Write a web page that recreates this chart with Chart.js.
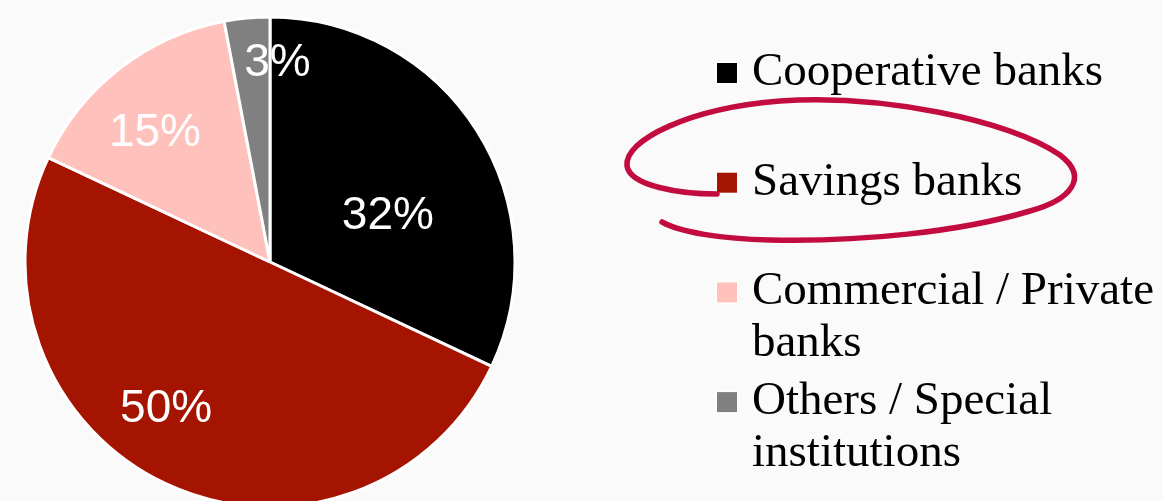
<!DOCTYPE html>
<html>
<head>
<meta charset="utf-8">
<script src="https://cdn.jsdelivr.net/npm/chart.js@4.4.1/dist/chart.umd.min.js"></script>
<style>
  html, body { margin: 0; padding: 0; background: #fafafa; }
  #wrap { width: 1163px; height: 501px; position: relative; overflow: hidden; }
</style>
</head>
<body>
<div id="wrap"><canvas id="pie" width="1163" height="501"></canvas></div>
<script>
// Market share by banking group (%)
const categories = [
  ['Cooperative banks'],
  ['Savings banks'],
  ['Commercial / Private', 'banks'],
  ['Others / Special', 'institutions']
];
const shares = [32, 50, 15, 3];
const sliceColors = ['#000000', '#a51400', '#ffc1bc', '#808080'];

// Where each percentage sits: fraction of the radius and a small angular nudge (degrees)
const labelPlacement = [
  { r: 0.522, nudge: 9.6 },
  { r: 0.723, nudge: 10.7 },
  { r: 0.716, nudge: -3.2 },
  { r: 0.827, nudge: 7.5 }
];

const sliceLabels = {
  id: 'sliceLabels',
  afterDatasetsDraw(chart) {
    const ctx = chart.ctx;
    const meta = chart.getDatasetMeta(0);
    const size = 46;
    ctx.save();
    ctx.font = size + 'px "Liberation Sans", Arial, sans-serif';
    ctx.fillStyle = '#ffffff';
    ctx.textAlign = 'center';
    ctx.textBaseline = 'alphabetic';
    meta.data.forEach((arc, i) => {
      const p = arc.getProps(['x', 'y', 'startAngle', 'endAngle', 'outerRadius'], true);
      const place = labelPlacement[i];
      const mid = (p.startAngle + p.endAngle) / 2 + place.nudge * Math.PI / 180;
      const dist = p.outerRadius * place.r;
      const cx = p.x + Math.cos(mid) * dist;
      const cy = p.y + Math.sin(mid) * dist;
      ctx.fillText(shares[i] + '%', cx, cy + size * 0.358);
    });
    ctx.restore();
  }
};

const sideLegend = {
  id: 'sideLegend',
  afterDraw(chart) {
    const ctx = chart.ctx;
    const labels = chart.data.labels;
    const colors = chart.data.datasets[0].backgroundColor;
    const x0 = 717, box = 20, textX = 752;
    const firstBaseline = 85, itemStep = 109.7, lineStep = 52;
    ctx.save();
    ctx.font = '47px "Liberation Serif", "Times New Roman", serif';
    ctx.textAlign = 'left';
    ctx.textBaseline = 'alphabetic';
    labels.forEach((lines, i) => {
      const base = firstBaseline + i * itemStep;
      const top = base - 22;
      ctx.fillStyle = '#ffffff';
      ctx.fillRect(x0 - 1.5, top - 1.5, box + 3, box + 3);
      ctx.fillStyle = colors[i];
      ctx.fillRect(x0, top, box, box);
      ctx.fillStyle = '#000000';
      lines.forEach((line, j) => ctx.fillText(line, textX, base + j * lineStep));
    });

    // hand-drawn ring around the savings banks entry
    ctx.strokeStyle = '#c20c3f';
    ctx.lineWidth = 5.5;
    ctx.lineCap = 'round';
    ctx.lineJoin = 'round';
    ctx.beginPath();
    ctx.moveTo(717, 194);
    ctx.bezierCurveTo(680, 194, 630, 186, 627, 166);
    ctx.bezierCurveTo(624, 140, 690, 108, 780, 101);
    ctx.bezierCurveTo(880, 94, 1010, 120, 1060, 155);
    ctx.bezierCurveTo(1090, 178, 1070, 200, 1030, 211);
    ctx.bezierCurveTo(960, 232, 860, 242, 770, 240);
    ctx.bezierCurveTo(720, 239, 680, 232, 662, 222);
    ctx.stroke();
    ctx.restore();
  }
};

new Chart(document.getElementById('pie'), {
  type: 'pie',
  data: {
    labels: categories,
    datasets: [{
      data: shares,
      backgroundColor: sliceColors,
      borderColor: '#ffffff',
      borderWidth: 3,
      radius: 245,
      hoverOffset: 0
    }]
  },
  options: {
    responsive: false,
    animation: false,
    layout: { padding: { left: 0, right: 623, top: 23, bottom: 0 } },
    plugins: {
      legend: { display: false },
      tooltip: { enabled: false }
    }
  },
  plugins: [sliceLabels, sideLegend]
});
</script>
</body>
</html>
